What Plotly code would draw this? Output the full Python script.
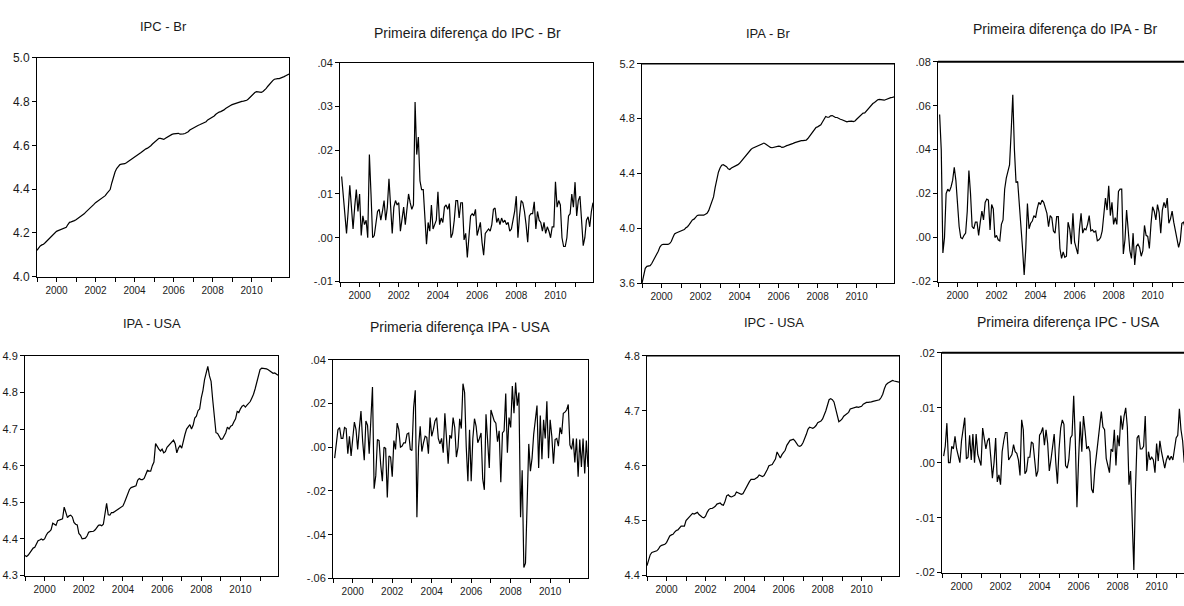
import plotly.graph_objects as go

# ---------------- DATA (monthly, 1999M01 - 2011M12) ----------------
start_year = 1999
n_months = 156

ipc_br = [
    4.120, 4.132, 4.140, 4.145, 4.148, 4.155, 4.163, 4.170, 4.175, 4.185, 4.195, 4.203,
    4.207, 4.210, 4.213, 4.216, 4.218, 4.221, 4.225, 4.238, 4.248, 4.250, 4.252, 4.256,
    4.260, 4.265, 4.270, 4.275, 4.280, 4.287, 4.295, 4.302, 4.308, 4.312, 4.320, 4.330,
    4.338, 4.343, 4.347, 4.352, 4.357, 4.362, 4.370, 4.380, 4.388, 4.398, 4.428, 4.458,
    4.478, 4.494, 4.505, 4.512, 4.514, 4.514, 4.516, 4.520, 4.525, 4.530, 4.533, 4.540,
    4.547, 4.551, 4.555, 4.560, 4.567, 4.573, 4.580, 4.584, 4.587, 4.591, 4.598, 4.606,
    4.612, 4.620, 4.628, 4.632, 4.632, 4.628, 4.627, 4.632, 4.637, 4.644, 4.648, 4.650,
    4.652, 4.654, 4.656, 4.655, 4.651, 4.650, 4.652, 4.654, 4.657, 4.662, 4.670, 4.675,
    4.679, 4.684, 4.688, 4.691, 4.694, 4.697, 4.699, 4.702, 4.708, 4.716, 4.720, 4.724,
    4.728, 4.734, 4.742, 4.748, 4.752, 4.754, 4.757, 4.762, 4.768, 4.774, 4.778, 4.782,
    4.786, 4.789, 4.792, 4.795, 4.797, 4.799, 4.801, 4.802, 4.804, 4.806, 4.812, 4.820,
    4.827, 4.835, 4.841, 4.845, 4.845, 4.843, 4.842, 4.846, 4.852, 4.860, 4.870, 4.880,
    4.888, 4.896, 4.902, 4.905, 4.905, 4.905, 4.907, 4.910, 4.914, 4.918, 4.921, 4.926,
]

d_ipc_br = [
    .014, .010, .006, .001, .006, .012, .007, .002, .007, .011, .006,
    .010, .0005, .005, .003, .004, .000, .019, .010, .000, .0005, .004, .006,
    .0065, .004, .006, .0085, .004, .007, .0135, .007, .001, .007, .0085, .0075,
    .008, .0015, .004, .007, .003, .006, .010, .008, .0065, .0075, .031, .019,
    .023, .013, .011, .011, .004, -.0015, .0035, .0015, .0075, .002, .003, .004,
    .0105, .003, .0045, .0035, .007, .0075, .0065, .0078, .000, .001, .004, .0085,
    .0085, .0045, .008, .008, -.0005, .001, -.0045, .0015, .005, .0055, .005, .0065,
    .0005, .002, .0035, -.001, -.004, .001, .0015, .002, .0015, .003, .0065, .0068,
    .0035, .0045, .003, .0045, .0035, .004, .003, .0035, .0015, .002, .004, .006,
    .0095, .000, .005, .0085, .008, .006, .003, -.001, .005, .0055, .0055, .0082,
    .002, .006, .004, .0035, .0015, .0035, .001, .0025, .0015, .000, .0025, .0025,
    .0128, .007, .0085, .0075, .000, -.002, -.002, .000, .005, .0055, .010, .007,
    .0127, .005, .0085, .0095, .004, -.0018, .000, .004, .0048, .0025, .006, .008,
]

ipa_br = [
    3.600, 3.660, 3.710, 3.725, 3.725, 3.730, 3.745, 3.765, 3.785, 3.810, 3.835, 3.865,
    3.880, 3.885, 3.885, 3.882, 3.884, 3.890, 3.905, 3.935, 3.960, 3.967, 3.972, 3.978,
    3.985, 3.987, 3.992, 4.005, 4.013, 4.028, 4.045, 4.063, 4.068, 4.082, 4.095, 4.098,
    4.100, 4.098, 4.097, 4.102, 4.110, 4.130, 4.160, 4.190, 4.230, 4.300, 4.360, 4.410,
    4.440, 4.460, 4.465, 4.460, 4.450, 4.435, 4.430, 4.440, 4.445, 4.450, 4.460, 4.465,
    4.475, 4.490, 4.505, 4.520, 4.535, 4.550, 4.565, 4.575, 4.585, 4.590, 4.600, 4.603,
    4.605, 4.612, 4.620, 4.622, 4.615, 4.605, 4.598, 4.590, 4.588, 4.592, 4.592, 4.598,
    4.600, 4.598, 4.590, 4.592, 4.600, 4.603, 4.607, 4.610, 4.613, 4.620, 4.625, 4.630,
    4.635, 4.638, 4.640, 4.640, 4.640, 4.643, 4.655, 4.672, 4.685, 4.705, 4.720, 4.735,
    4.740, 4.750, 4.755, 4.775, 4.795, 4.815, 4.810, 4.810, 4.820, 4.822, 4.815, 4.808,
    4.808, 4.800, 4.795, 4.792, 4.787, 4.780, 4.776, 4.780, 4.782, 4.782, 4.778, 4.783,
    4.795, 4.807, 4.815, 4.830, 4.840, 4.842, 4.855, 4.870, 4.885, 4.902, 4.910, 4.918,
    4.930, 4.937, 4.940, 4.940, 4.936, 4.934, 4.940, 4.946, 4.950, 4.953, 4.955, 4.958,
]

d_ipa_br = [
    .056, .040, -.007, .000, .020, .022, .021, .023, .026, .032, .026,
    .015, .005, .000, -.0005, .001, .002, .012, .0305, .020, .005, .004, .007,
    .007, .001, .007, .012, .008, .016, .0175, .017, .0035, .015, .013, .000,
    .001, -.001, -.0015, .006, .008, .022, .027, .030, .033, .048, .065, .040,
    .025, .0255, .016, .005, -.005, -.017, -.005, .0155, .004, .0065, .0075, .010,
    .009, .013, .016, .015, .017, .016, .014, .011, .005, .010, .009, .003,
    .002, .0095, .0095, -.005, -.0095, -.0065, -.009, -.0085, .007, .004, -.003, .011,
    -.002, -.005, -.0075, .004, .011, .002, .004, .0035, .006, .010, .003, .0035,
    .0025, .003, -.0015, -.001, .000, .003, .012, .018, .0125, .0235, .010, .016,
    .006, .009, .006, .021, .022, .022, -.0075, -.001, .0125, .001, -.006, -.0095,
    .002, -.0125, -.004, -.003, -.0045, -.0085, -.006, .0055, .001, .0005, -.005, .006,
    .014, .012, .008, .015, .0115, .002, .0125, .016, .0135, .018, .0065, .0085,
    .012, .007, .0035, .000, -.0045, -.0015, .0065, .007, .004, .002, .003, .003,
]

ipa_usa = [
    4.355, 4.352, 4.356, 4.362, 4.370, 4.375, 4.377, 4.385, 4.395, 4.397, 4.400, 4.397,
    4.400, 4.410, 4.417, 4.420, 4.425, 4.443, 4.440, 4.437, 4.450, 4.452, 4.452, 4.455,
    4.487, 4.468, 4.458, 4.463, 4.465, 4.460, 4.445, 4.440, 4.438, 4.415, 4.410, 4.400,
    4.400, 4.402, 4.408, 4.418, 4.420, 4.420, 4.421, 4.425, 4.430, 4.437, 4.438, 4.436,
    4.440, 4.465, 4.497, 4.466, 4.465, 4.472, 4.472, 4.475, 4.478, 4.480, 4.483, 4.485,
    4.490, 4.500, 4.510, 4.520, 4.535, 4.540, 4.542, 4.545, 4.545, 4.560, 4.565, 4.562,
    4.562, 4.565, 4.575, 4.587, 4.585, 4.585, 4.600, 4.610, 4.660, 4.650, 4.645, 4.640,
    4.645, 4.635, 4.638, 4.650, 4.655, 4.660, 4.665, 4.670, 4.660, 4.635, 4.648, 4.655,
    4.648, 4.670, 4.685, 4.700, 4.705, 4.712, 4.700, 4.710, 4.730, 4.735, 4.750, 4.755,
    4.785, 4.805, 4.835, 4.855, 4.871, 4.845, 4.830, 4.780, 4.730, 4.690, 4.688, 4.680,
    4.672, 4.673, 4.680, 4.690, 4.705, 4.700, 4.708, 4.710, 4.720, 4.728, 4.748, 4.745,
    4.755, 4.762, 4.765, 4.760, 4.765, 4.770, 4.775, 4.785, 4.795, 4.810, 4.830, 4.850,
    4.862, 4.866, 4.866, 4.866, 4.864, 4.862, 4.858, 4.855, 4.852, 4.853, 4.850, 4.847,
]

d_ipa_usa = [
    -.005, .002, .008, .009, .004, .004, .009, .0085, -.003, .005, -.004,
    .004, .0115, .008, -.001, .0085, .0165, .003, -.006, .012, .010, -.003, .015,
    .0275, -.019, -.013, .0035, .003, -.008, -.0155, .000, -.0005, -.023, -.004, -.0045,
    -.0135, .003, -.001, .011, .008, .000, .0005, .002, .002, .006, .0065, -.001,
    -.0015, .018, .026, -.032, .000, .0095, -.002, .002, .005, .0045, -.003, .0135,
    .005, .008, .012, .0135, .004, .0015, .004, -.0025, .0155, .004, -.0075, .0055,
    .004, .0135, .009, -.0045, .000, .013, .0085, .029, .025, .000, -.0155, .008,
    -.0155, .004, .013, .0095, .002, .004, .0065, -.0145, -.0195, .015, .0005, -.0095,
    .017, .0145, .012, .011, .0025, .0075, -.016, .0065, .0075, .0245, -.0025, .0135,
    .009, .028, .0155, .0295, .019, .025, -.032, -.0105, -.055, -.053, -.029, .0015,
    -.011, -.005, .006, .0115, .019, -.0095, .0145, -.0055, .0125, .004, .021, -.005,
    .0125, .005, -.0075, .0035, .004, .0005, .009, .006, .0155, .016, .017, .0195,
    .001, -.001, .004, -.007, .004, -.0135, .0035, -.009, .004, -.012, .003, -.009,
]

ipc_usa = [
    4.418, 4.428, 4.438, 4.442, 4.443, 4.443, 4.445, 4.448, 4.453, 4.455, 4.456, 4.457,
    4.460, 4.466, 4.472, 4.474, 4.475, 4.479, 4.482, 4.483, 4.487, 4.490, 4.490, 4.490,
    4.500, 4.503, 4.506, 4.510, 4.513, 4.512, 4.513, 4.515, 4.511, 4.508, 4.506, 4.505,
    4.508, 4.515, 4.520, 4.522, 4.522, 4.524, 4.526, 4.530, 4.531, 4.532, 4.529, 4.528,
    4.535, 4.545, 4.547, 4.544, 4.543, 4.544, 4.546, 4.552, 4.551, 4.550, 4.548, 4.549,
    4.555, 4.560, 4.566, 4.571, 4.575, 4.575, 4.575, 4.577, 4.579, 4.583, 4.581, 4.580,
    4.582, 4.587, 4.593, 4.600, 4.601, 4.602, 4.607, 4.612, 4.625, 4.620, 4.614, 4.620,
    4.624, 4.628, 4.637, 4.642, 4.646, 4.647, 4.648, 4.645, 4.640, 4.636, 4.635, 4.637,
    4.642, 4.648, 4.657, 4.666, 4.670, 4.669, 4.668, 4.670, 4.673, 4.678, 4.680, 4.681,
    4.685, 4.692, 4.700, 4.710, 4.720, 4.722, 4.720, 4.716, 4.705, 4.690, 4.680, 4.682,
    4.685, 4.690, 4.692, 4.694, 4.697, 4.703, 4.704, 4.705, 4.706, 4.707, 4.706, 4.707,
    4.708, 4.712, 4.714, 4.715, 4.715, 4.715, 4.716, 4.717, 4.718, 4.719, 4.719, 4.720,
    4.724, 4.730, 4.740, 4.747, 4.750, 4.752, 4.753, 4.755, 4.754, 4.753, 4.752, 4.752,
]

d_ipc_usa = [
    .0012, .003, .0072, .000, .000, .003, .0025, .0048, .0025, .001, .000,
    .004, .006, .0082, .0007, .001, .005, .0005, .0052, .000, .0052, .0015, .0005,
    -.0005, .0063, .004, .0025, .004, .0045, .001, -.0028, .000, .0045, -.0035, -.0022,
    -.004, .002, .004, .0055, .0055, .0005, .001, .0015, .0033, .002, .0017, .0005,
    -.0023, .0078, .006, -.002, -.0015, .001, .001, .0038, .0035, .000, -.0025, -.0015,
    .005, .0055, .0064, .0032, .006, .0035, -.0015, .0005, .0025, .0052, .000, -.0038,
    .0025, .0063, .0078, .007, -.0005, -.001, .0005, .0045, .005, .0122, .004, -.0081,
    .0005, .0075, .002, .0085, .0058, .0025, .003, .002, -.0048, -.0055, -.0012, .0015,
    .003, .0058, .0093, .0065, .006, .0008, -.0005, -.0018, .0025, .002, .006, -.0005,
    .005, .003, .0086, .006, .0085, .010, .0065, -.004, -.0015, -.010, -.0195, -.005,
    .0045, .005, .0025, .0025, .003, .0085, -.0015, .002, .0005, .001, .0005, -.0018,
    .0035, .0003, .004, .002, .0005, -.001, .0005, .0013, .0005, .0012, .0005, .0025,
    .0045, .005, .0098, .006, .004, .000, .001, .002, .001, .000, -.002, -.001,
]

year_ticks = list(range(1999, 2012))
label_years = [2000, 2002, 2004, 2006, 2008, 2010]

for name, arr, n in [("ipc_br", ipc_br, 156), ("d_ipc_br", d_ipc_br, 155), ("ipa_br", ipa_br, 156),
                     ("d_ipa_br", d_ipa_br, 155), ("ipa_usa", ipa_usa, 156), ("d_ipa_usa", d_ipa_usa, 155),
                     ("ipc_usa", ipc_usa, 156), ("d_ipc_usa", d_ipc_usa, 155)]:
    assert len(arr) == n, f"{name} has {len(arr)} values, expected {n}"

x_level = [start_year + i / 12 for i in range(n_months)]
x_diff = [start_year + (i + 1) / 12 for i in range(n_months - 1)]

W, H = 1184, 606
FONT = "Liberation Sans, Arial, Helvetica, sans-serif"
TXT = "#1a1a1a"


def fmt_dec(v):
    s = f"{v:.2f}"
    if s.startswith("0"):
        s = s[1:]
    elif s.startswith("-0"):
        s = "-" + s[2:]
    return s


panels = [
    # title, x, y, box (px: x0, x1, y0, y1), title pos, title size, yrange, yticks, labelfmt, cut,
    # top-border width, y tick font size
    ("IPC - Br", x_level, ipc_br, (37, 289, 52, 276), (163, 20), 13, (4.0, 5.0),
     [4.0, 4.2, 4.4, 4.6, 4.8, 5.0], "lvl", False, 0, 12),
    ("Primeira diferença do IPC - Br", x_diff, d_ipc_br, (340, 593, 57, 281), (467, 27), 14, (-0.01, 0.04),
     [-0.01, 0.0, 0.01, 0.02, 0.03, 0.04], "dec", False, 0, 11),
    ("IPA - Br", x_level, ipa_br, (642, 894, 58, 283), (768, 27), 13, (3.6, 5.2),
     [3.6, 4.0, 4.4, 4.8, 5.2], "lvl", False, 1.5, 11),
    ("Primeira diferença do IPA - Br", x_diff, d_ipa_br, (938, 1184, 56, 281), (1065, 23), 14, (-0.02, 0.08),
     [-0.02, 0.0, 0.02, 0.04, 0.06, 0.08], "dec", True, 2, 11),
    ("IPA - USA", x_level, ipa_usa, (25, 278, 357, 582), (152, 324), 13, (4.3, 4.9),
     [4.3, 4.4, 4.5, 4.6, 4.7, 4.8, 4.9], "lvl", False, 0, 11),
    ("Primeria diferença IPA - USA", x_diff, d_ipa_usa, (333, 588, 361, 585), (460, 328), 14, (-0.06, 0.04),
     [-0.06, -0.04, -0.02, 0.0, 0.02, 0.04], "dec", False, 0, 11),
    ("IPC - USA", x_level, ipc_usa, (647, 899, 357, 582), (774, 323), 13, (4.4, 4.8),
     [4.4, 4.5, 4.6, 4.7, 4.8], "lvl", False, 1.5, 11),
    ("Primeira diferença IPC - USA", x_diff, d_ipc_usa, (942, 1184, 354, 579), (1068, 322), 14, (-0.02, 0.02),
     [-0.02, -0.01, 0.0, 0.01, 0.02], "dec", True, 2, 11),
]

x_full_span = 12 + 11 / 12  # 1999M01 .. 2011M12
fig = go.Figure()
layout = {}
annotations = []
shapes = []
for i, (title, xs, ys, box, tpos, tsize, yr, yt, lf, cut, topw, yfs) in enumerate(panels, start=1):
    x0, x1, y0, y1 = box
    sfx = "" if i == 1 else str(i)
    fig.add_trace(go.Scatter(x=xs, y=ys, mode="lines", line=dict(color="black", width=1.2),
                             xaxis="x" + sfx, yaxis="y" + sfx, showlegend=False, hoverinfo="skip"))
    if cut:
        xmax = start_year + (x1 - x0) / 252 * x_full_span
    else:
        xmax = start_year + x_full_span
    layout["xaxis" + sfx] = dict(
        domain=[x0 / W, x1 / W], anchor="y" + sfx, range=[start_year, xmax],
        showgrid=False, zeroline=False, showline=True, linecolor="black", linewidth=1, mirror=True,
        tickvals=label_years, ticktext=[str(v) for v in label_years],
        ticks="outside", ticklen=4, tickcolor="black", tickwidth=1,
        minor=dict(tickvals=year_ticks, ticks="outside", ticklen=4, tickcolor="black", tickwidth=1),
        tickfont=dict(family=FONT, size=10, color=TXT),
    )
    if lf == "lvl":
        tt = [f"{v:.1f}" for v in yt]
    else:
        tt = [fmt_dec(v) for v in yt]
    layout["yaxis" + sfx] = dict(
        domain=[1 - y1 / H, 1 - y0 / H], anchor="x" + sfx, range=list(yr),
        showgrid=False, zeroline=False, showline=True, linecolor="black", linewidth=1,
        mirror=(not cut),
        tickvals=yt, ticktext=tt, ticks="outside", ticklen=4, tickcolor="black", tickwidth=1,
        tickfont=dict(family=FONT, size=yfs, color=TXT),
    )
    annotations.append(dict(text=title, x=tpos[0] / W, y=1 - tpos[1] / H, xref="paper", yref="paper",
                            xanchor="center", yanchor="middle", showarrow=False,
                            font=dict(family=FONT, size=tsize, color=TXT)))
    if topw:
        shapes.append(dict(type="line", xref=f"x{sfx} domain", yref=f"y{sfx} domain",
                           x0=0, x1=1, y0=1, y1=1, line=dict(color="black", width=topw)))

fig.update_layout(**layout)
fig.update_layout(width=W, height=H, margin=dict(l=0, r=0, t=0, b=0), autosize=False,
                  paper_bgcolor="white", plot_bgcolor="white", annotations=annotations, shapes=shapes,
                  font=dict(family=FONT))
fig.write_html("out.html", config={"displayModeBar": False},
               post_script="document.body.style.margin='0';document.body.style.overflow='hidden';")
